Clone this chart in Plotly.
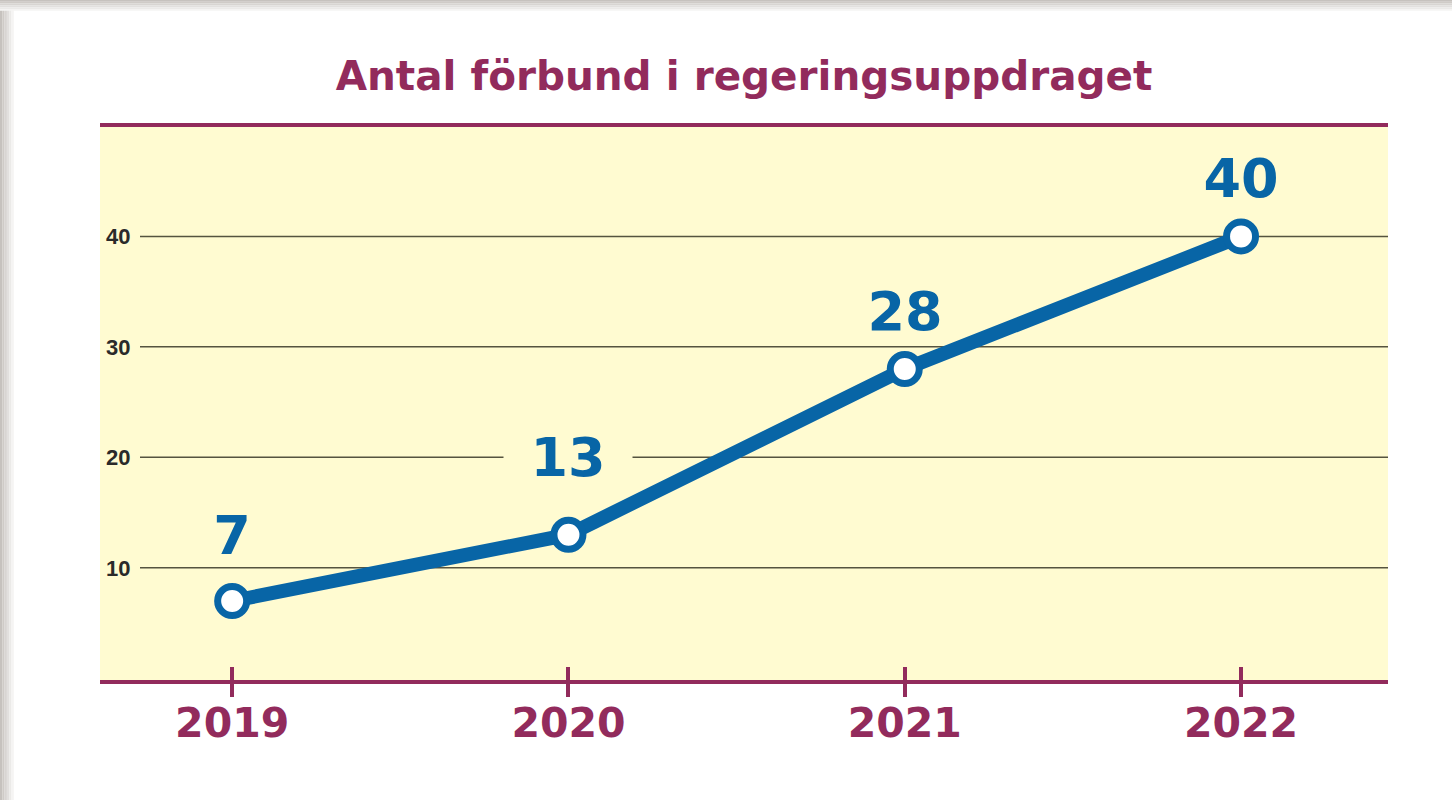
import plotly.graph_objects as go

years = [2019, 2020, 2021, 2022]
values = [7, 13, 28, 40]
y_ticks = [10, 20, 30, 40]
title_text = "Antal förbund i regeringsuppdraget"

W, H = 1452, 800
L, R, T, B = 100, 64, 127, 120
PW, PH = W - L - R, H - T - B

MAROON = "#922B5C"
BLUE = "#0865A6"
YELLOW = "#FFFBD1"

# vertical offset of each value label above its point (px)
label_shift = [66, 78, 58, 58]

def px_x(px):
    return (px - L) / PW

def px_y(py):
    return (H - B - py) / PH

fig = go.Figure()
fig.add_trace(go.Scatter(
    x=years, y=values, mode="lines+markers",
    line=dict(color=BLUE, width=14),
    marker=dict(size=29, color="white", line=dict(color=BLUE, width=7)),
    hoverinfo="skip", showlegend=False,
))
# invisible trace for second axis (upper half of the crossing ticks)
fig.add_trace(go.Scatter(x=years, y=values, xaxis="x2", mode="markers",
                         marker=dict(opacity=0), showlegend=False, hoverinfo="skip"))

shapes = []
# gridlines starting after tick labels
for v in y_ticks:
    shapes.append(dict(type="line", xref="paper", yref="y", x0=px_x(140), x1=1,
                       y0=v, y1=v, line=dict(color="#55533f", width=1.5), layer="below"))
# card shadow (top and left)
shadow_cols = ["#c6c2be", "#cfcbc7", "#d8d5d2", "#e2e0de", "#ebeae8", "#f5f4f3"]
for i, c in enumerate(shadow_cols):
    shapes.append(dict(type="rect", xref="paper", yref="paper",
                       x0=px_x(0), x1=px_x(W), y0=px_y(i * 1.8), y1=px_y(i * 1.8 + 1.8),
                       fillcolor=c, line=dict(width=0), layer="below"))
    shapes.append(dict(type="rect", xref="paper", yref="paper",
                       x0=px_x(i * 2.3), x1=px_x(i * 2.3 + 2.3), y0=px_y(H), y1=px_y(10),
                       fillcolor=c, line=dict(width=0), layer="below"))

annotations = []
for x, v, s in zip(years, values, label_shift):
    annotations.append(dict(
        x=x, y=v, text=f"<b>{v}</b>", showarrow=False, yshift=s,
        font=dict(family="DejaVu Sans", size=54, color=BLUE),
        bgcolor=YELLOW, borderpad=0, width=128, height=46,
    ))

fig.update_layout(
    width=W, height=H,
    margin=dict(l=L, r=R, t=T, b=B, pad=0),
    paper_bgcolor="white", plot_bgcolor=YELLOW,
    title=dict(text=f"<b>{title_text}</b>", x=0.5, xref="paper", xanchor="center",
               y=1 - 76 / H, yref="container", yanchor="middle",
               font=dict(family="DejaVu Sans", size=40.5, color=MAROON)),
    xaxis=dict(range=[2018.607, 2022.437], tickvals=years, ticktext=[str(y) for y in years],
               showgrid=False, zeroline=False, showline=True, mirror=True,
               linecolor=MAROON, linewidth=4,
               ticks="outside", ticklen=13, tickwidth=4, tickcolor=MAROON,
               ticklabelstandoff=-9,
               tickfont=dict(family="DejaVu Sans", size=41, color=MAROON, weight="bold"),
               fixedrange=True),
    xaxis2=dict(overlaying="x", matches="x", side="bottom", tickvals=years,
                showticklabels=False, ticks="inside", ticklen=13, tickwidth=4,
                tickcolor=MAROON, showgrid=False, zeroline=False, showline=False),
    yaxis=dict(range=[-0.15, 49.9], tickvals=y_ticks, showgrid=False, zeroline=False,
               showline=False, ticks="", ticklabelposition="inside", ticklabelstandoff=3,
               tickfont=dict(family="Liberation Sans", size=22, color="#2a2a2a", weight="bold"),
               fixedrange=True),
    shapes=shapes, annotations=annotations,
)

fig.write_html("out.html", config={"displayModeBar": False},
               post_script="document.body.style.margin='0';")
